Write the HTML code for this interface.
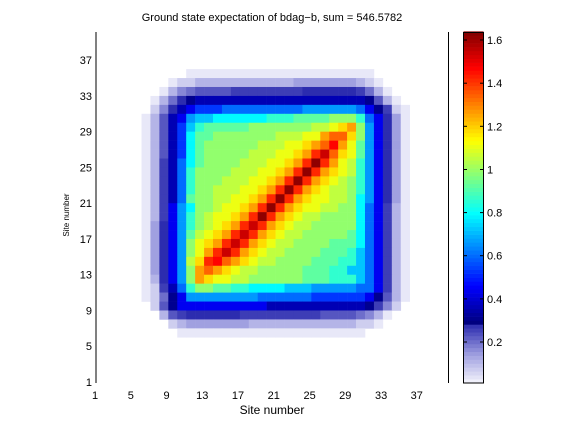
<!DOCTYPE html>
<html>
<head>
<meta charset="utf-8">
<style>
html,body{margin:0;padding:0;background:#fff;}
svg{display:block;}
text{font-family:"Liberation Sans",sans-serif;fill:#000;}
</style>
</head>
<body>
<svg id="chart" width="576" height="432" viewBox="0 0 576 432" xmlns="http://www.w3.org/2000/svg">
  <rect x="0" y="0" width="576" height="432" fill="#fff"/>
  <g id="cells"></g>
  <line x1="96" y1="32" x2="96" y2="383" stroke="#000" stroke-width="1"/>
  <line x1="448.5" y1="32" x2="448.5" y2="383" stroke="#000" stroke-width="1"/>
  <g id="xticks"></g>
  <g id="yticks"></g>
  <text x="272" y="21" font-size="11" text-anchor="middle">Ground state expectation of bdag−b, sum = 546.5782</text>
  <text x="272" y="414" font-size="12" text-anchor="middle">Site number</text>
  <text x="0" y="0" font-size="8" text-anchor="middle" transform="translate(69,215) rotate(-90)">Site number</text>
  <g id="colorbar"></g>
</svg>
<script>
// ---- data ----
const xTickValues = [1,5,9,13,17,21,25,29,33,37];
const yTickValues = [1,5,9,13,17,21,25,29,33,37];
const cbTickValues = [0.2,0.4,0.6,0.8,1,1.2,1.4,1.6];
const cbTickLabels = ["0.2","0.4","0.6","0.8","1","1.2","1.4","1.6"];
const levelCodes = "abcdefghijklmnopqrstuvwxyzABC";
const levelValues = [0.03,0.07,0.11,0.14,0.17,0.20,0.23,0.26,0.28,0.31,0.36,0.44,0.53,0.60,0.66,0.72,0.79,0.86,0.92,0.99,1.05,1.11,1.18,1.26,1.34,1.42,1.47,1.54,1.62];
// rows top (site ~36) to bottom (site ~6); '.' = empty
const gridRows = [
".....aaaaaaaaaaaaaaaaaaaaa....",
"...abbcccccccccccdddddddcba...",
"..acefgggghhhhhhhhiiiiiihfca..",
".acfijkkkkkkkkkkkkkkkkkkkjgca.",
".beiklmmmnnnnnnnnnoooooonljhba",
"acgkl"+"oppqqqqqqrrrsssstttr"+"nlida",
"acgkm"+"p"+"rssssstttttttuuvwx"+"t"+"olida",
"acgkm"+"q"+"sstttttttuuuvvxyyw"+"t"+"olida",
"acgkm"+"q"+"sttttttuuuvvwxyAxv"+"s"+"olida",
"acgkm"+"q"+"stttttuuuvvwxzBywv"+"s"+"olida",
"achkn"+"q"+"sttttuuuvvwxzCzxvu"+"r"+"olida",
"achkn"+"r"+"ttttuuuvvwxzCzxwvu"+"r"+"olida",
"achkn"+"r"+"tttuuuvvwxzCzxwvut"+"r"+"olida",
"achkn"+"r"+"ttuuuvvwxzCzxwvuut"+"r"+"olida",
"achkn"+"s"+"ttuuvvwxzCzxwvvuut"+"q"+"olida",
"achlo"+"q"+"ttuvvwxzCzxwvvuutt"+"q"+"nlhca",
"achlo"+"r"+"tuvvwxzCzxwvuutttt"+"q"+"nlhca",
"adilo"+"r"+"tuvwxzBzxwvuuttttt"+"q"+"nlhca",
"adilo"+"s"+"uvwxzBzxwvuuttttts"+"q"+"nlhca",
"adilo"+"t"+"vwxzBzxwvuuttttsss"+"q"+"nlhca",
"adilo"+"t"+"vxzBzxwvuuttttsssr"+"p"+"nlhca",
"adilo"+"u"+"wzAyxwvuuttttsssrr"+"p"+"nlhca",
"adilo"+"t"+"xyxwvuutttttsssrrp"+"p"+"nlhca",
"acilo"+"t"+"xwvvuuttttttsssrrr"+"p"+"nlhca",
"abhkn"+"rttssrrqqqqpppooooon"+"nlhca",
"abfjloooooooonnnnnnmmmmmmljgca",
".bgjllllllllllkkkkkkkkkkkjheb.",
"..cghiiiiiihhhhhhhhhggggfeca..",
"...bcdddddddccccccccccccbba...",
"....aaaaaaaaaaaaaaaaaaaaa....."
];
const colStart = 6.2;   // site value of left edge of first column
const rowTop = 36.0;    // site value of top edge of first row

// ---- axes ----
function xPix(v){ return 95 + (v-1)*8.94; }
function yPix(v){ return 382 - (v-1)*8.94; }
function cbY(v){ return 383 - (v-0.01)*215.7; }

function clamp(x){ return Math.max(0, Math.min(1, x)); }
function colorOf(v){
  if (v < 0.29){
    const stops=[[0,[255,255,255]],[0.03,[232,232,248]],[0.14,[160,160,224]],[0.29,[36,36,172]]];
    for (let i=0;i<stops.length-1;i++){
      const a=stops[i], b=stops[i+1];
      if (v<=b[0]){
        const f=(v-a[0])/(b[0]-a[0]);
        const c=a[1].map((x,k)=>Math.round(x+(b[1][k]-x)*f));
        return "rgb("+c.join(",")+")";
      }
    }
  }
  const t = clamp((v-0.29)/1.35);
  const r = clamp(1.5-Math.abs(4*t-3)), g = clamp(1.5-Math.abs(4*t-2)), b = clamp(1.5-Math.abs(4*t-1));
  return "rgb("+Math.round(r*255)+","+Math.round(g*255)+","+Math.round(b*255)+")";
}

const NS="http://www.w3.org/2000/svg";
const cells=document.getElementById("cells");
gridRows.forEach((row, r) => {
  for (let c=0;c<row.length;c++){
    const ch=row[c];
    const idx=levelCodes.indexOf(ch);
    if (idx<0) continue;
    const v=levelValues[idx];
    const x0=xPix(colStart+c), x1=xPix(colStart+c+1);
    const y0=yPix(rowTop-r), y1=yPix(rowTop-r-1);
    const rect=document.createElementNS(NS,"rect");
    
    
    rect.setAttribute("x", x0.toFixed(2));
    rect.setAttribute("y", y0.toFixed(2));
    rect.setAttribute("width", (x1-x0+0.3).toFixed(2));
    rect.setAttribute("height", (y1-y0+0.3).toFixed(2));
    rect.setAttribute("fill", colorOf(v));
    cells.appendChild(rect);
  }
});

const xt=document.getElementById("xticks");
xTickValues.forEach(v=>{
  const t=document.createElementNS(NS,"text");
  
  
  t.setAttribute("x", xPix(v).toFixed(1));
  t.setAttribute("y", "399");
  t.setAttribute("font-size","11");
  t.setAttribute("text-anchor","middle");
  t.textContent=String(v);
  xt.appendChild(t);
});
const yt=document.getElementById("yticks");
yTickValues.forEach(v=>{
  const t=document.createElementNS(NS,"text");
  
  
  t.setAttribute("x", "92");
  t.setAttribute("y", (yPix(v)+4).toFixed(1));
  t.setAttribute("font-size","11");
  t.setAttribute("text-anchor","end");
  t.textContent=String(v);
  yt.appendChild(t);
});

// colorbar
const cb=document.getElementById("colorbar");
const nBands=90, vMin=0.01, vMax=1.64;
for (let i=0;i<nBands;i++){
  const a=vMin+(vMax-vMin)*i/nBands, b=vMin+(vMax-vMin)*(i+1)/nBands;
  const rect=document.createElementNS(NS,"rect");
  
  
  rect.setAttribute("x","463.5");
  rect.setAttribute("y",cbY(b).toFixed(2));
  rect.setAttribute("width","20");
  rect.setAttribute("height",(cbY(a)-cbY(b)+0.3).toFixed(2));
  rect.setAttribute("fill",colorOf((a+b)/2));
  cb.appendChild(rect);
}
const frame=document.createElementNS(NS,"rect");


frame.setAttribute("x","463.5"); frame.setAttribute("y","32.5");
frame.setAttribute("width","20"); frame.setAttribute("height","350.5");
frame.setAttribute("fill","none"); frame.setAttribute("stroke","#000");
cb.appendChild(frame);
cbTickValues.forEach((v,i)=>{
  const y=cbY(v);
  [[463.5,467],[480,483.5]].forEach(p=>{
    const l=document.createElementNS(NS,"line");
    
    
    l.setAttribute("x1",p[0]); l.setAttribute("x2",p[1]);
    l.setAttribute("y1",y.toFixed(1)); l.setAttribute("y2",y.toFixed(1));
    l.setAttribute("stroke","#000");
    cb.appendChild(l);
  });
  const t=document.createElementNS(NS,"text");
  
  
  t.setAttribute("x","487");
  t.setAttribute("y",(y+4).toFixed(1));
  t.setAttribute("font-size","11");
  t.textContent=cbTickLabels[i];
  cb.appendChild(t);
});
</script>
</body>
</html>
